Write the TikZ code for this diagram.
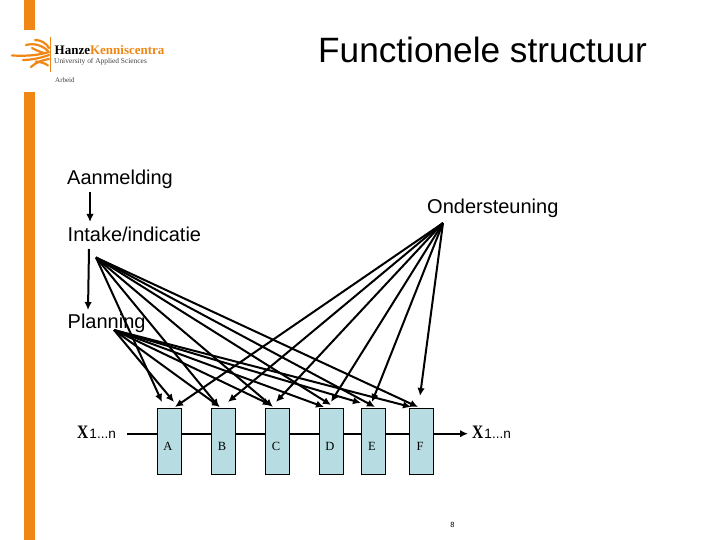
\documentclass[tikz,border=0pt]{standalone}
\usepackage{fontspec}
\setmainfont{Liberation Sans}
\newfontfamily\serifface{Liberation Serif}
\usetikzlibrary{arrows.meta}
\definecolor{hanze}{RGB}{240,135,20}
\definecolor{boxfill}{RGB}{183,221,226}
\tikzset{
  lbl/.style={inner sep=0pt,anchor=base west,font=\fontsize{20}{24}\selectfont},
  mod/.style={draw=black,line width=1pt,fill=boxfill,minimum width=24pt,minimum height=66pt,inner sep=0pt,anchor=north west},
  modtext/.style={inner sep=0pt,font=\serifface\fontsize{12.5}{14}\selectfont},
  arr/.style={line width=2pt,-{Latex[length=8pt,width=7.5pt]}},
  bar/.style={fill=hanze,draw=none},
  frond/.style={draw=hanze,line width=2.2pt,line cap=round},
  logotext/.style={inner sep=0pt,anchor=base west,font=\serifface\fontsize{7.4}{9}\selectfont,text=black!75}
}
\newcommand{\xlabel}{{\serifface\bfseries\fontsize{19}{22}\selectfont\scalebox{0.82}[1]{X}}{\fontsize{13.6}{16}\selectfont\hspace{1pt}1...n}}
\begin{document}
\begin{tikzpicture}[x=1pt,y=-1pt]
\useasboundingbox (0,0) rectangle (720,540);
\fill[white] (0,0) rectangle (720,540);
% side bars
\fill[bar] (24,0) rectangle (34.5,30);
\fill[bar] (24,92) rectangle (34.5,540);
% logo
\draw[hanze,line width=.6pt] (50.5,37) -- (50.5,72);
\draw[frond] (35,40) .. controls (41,40) and (46,43) .. (49,48);
\draw[frond] (26,45) .. controls (34,43) and (42,45) .. (48,51);
\draw[frond] (12,55.5) .. controls (24,56) and (36,56) .. (49,52);
\draw[frond] (23,60) .. controls (31,60) and (41,58) .. (49,55);
\draw[frond] (31,67) .. controls (36,62) and (43,60) .. (49,59);
\draw[frond] (36,61.5) .. controls (40,62) and (45,63) .. (48,65.5);
\draw[frond] (32,48) .. controls (36,50) and (40,52) .. (44,53);
\node[inner sep=0pt,anchor=base west,font=\serifface\bfseries\fontsize{13}{15}\selectfont] (hanzeword) at (54.5,55) {Hanze\textcolor{hanze}{Kenniscentra}};
\node[logotext] (univ) at (54,64) {University of Applied Sciences};
\node[logotext,font=\serifface\fontsize{7}{9}\selectfont] (arbeid) at (55,83) {Arbeid};
% title and labels
\node[inner sep=0pt,anchor=base west,font=\fontsize{35.2}{40}\selectfont] (title) at (318,62.5) {Functionele structuur};
\node[lbl] (aanmelding) at (67,185) {Aanmelding};
\node[lbl] (onder) at (427,214) {Ondersteuning};
\node[lbl] (intake) at (67.5,241) {Intake/indicatie};
\node[lbl] (planning) at (67.5,328) {Planning};
\node[inner sep=0pt,anchor=base west] (xin) at (77,438) {\xlabel};
\node[inner sep=0pt,anchor=base west] (xout) at (472,438) {\xlabel};
% source points of arrows
\coordinate (si) at (96,257.5);
\coordinate (sp) at (114,330);
\coordinate (so) at (443,223);
\coordinate (lineL) at (126.5,433.7);
\coordinate (lineR) at (468,433.7);
\draw[arr] (lineL) -- (lineR);
% modules
\node[mod] (A) at (156.5,408) {};
\node[mod] (B) at (210.5,408) {};
\node[mod] (C) at (264.5,408) {};
\node[mod] (D) at (318.5,408) {};
\node[mod] (E) at (360.5,408) {};
\node[mod] (F) at (408.5,408) {};
\foreach \n/\t in {A/A,B/B,C/C,D/D,E/E,F/F}{\node[modtext] (t\n) at ([yshift=-5pt,xshift=-1pt]\n.center) {\t};}
% arrow targets
\coordinate (iA) at (162,402);
\coordinate (iB) at (219,407);
\coordinate (iC) at (273,407);
\coordinate (iD) at (331,405);
\coordinate (iE) at (375,407);
\coordinate (iF) at (418,407);
\coordinate (pA) at (174,402);
\coordinate (pB) at (220,407);
\coordinate (pC) at (271,405);
\coordinate (pD) at (324,407);
\coordinate (pE) at (361,403);
\coordinate (pF) at (411,407);
\coordinate (oA) at (175,407);
\coordinate (oB) at (228,402);
\coordinate (oC) at (276,402);
\coordinate (oD) at (331,402);
\coordinate (oE) at (372,402);
\coordinate (oF) at (420,396);
\foreach \t in {A,B,C,D,E,F}{
  \draw[arr] (si) -- (i\t);
  \draw[arr] (sp) -- (p\t);
  \draw[arr] (so) -- (o\t);
}
\coordinate (a1) at (90,192);
\coordinate (a2) at (90,222);
\coordinate (b1) at (89,249);
\coordinate (b2) at (88,310);
\draw[arr] (a1) -- (a2);
\draw[arr] (b1) -- (b2);
\node[inner sep=0pt,font=\fontsize{7.5}{9}\selectfont] (pagenum) at (452.5,525) {8};
\end{tikzpicture}
\end{document}
